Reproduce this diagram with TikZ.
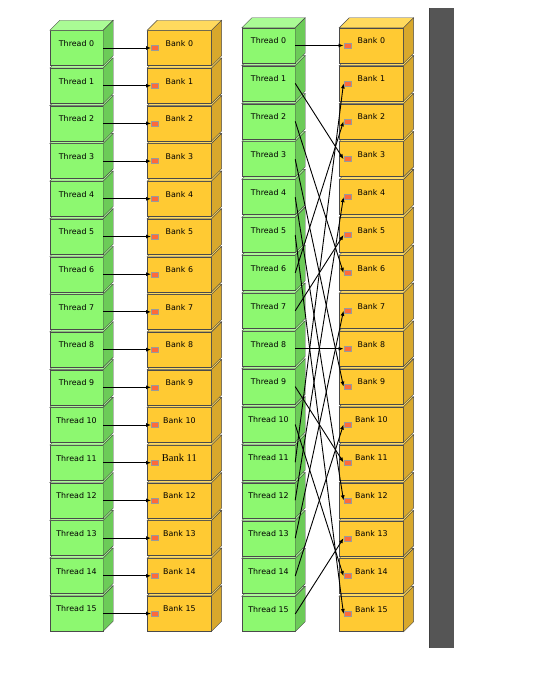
\documentclass[tikz,border=0pt]{standalone}
\usepackage{fontspec}
\setmainfont{DejaVu Sans}
\newfontfamily\bankserif{Liberation Serif}
\usepackage{xcolor}
\usetikzlibrary{arrows.meta, positioning}

\definecolor{thfront}{HTML}{8DF870}
\definecolor{thtop}{HTML}{AAFB95}
\definecolor{thside}{HTML}{6CCB58}
\definecolor{bkfront}{HTML}{FFCA33}
\definecolor{bktop}{HTML}{FFDA5E}
\definecolor{bkside}{HTML}{D8A82C}
\definecolor{edge}{HTML}{4A4A4A}
\definecolor{port}{HTML}{FF6A3A}
\definecolor{portedge}{HTML}{9A9A9A}
\definecolor{bar}{HTML}{555555}

\newcommand{\cubefaces}[3]{%
  \filldraw[draw=edge, line width=0.4pt, fill=#2] (#1.north west) -- ++(10,-10)
    -- ([shift={(10,-10)}]#1.north east) -- (#1.north east) -- cycle;
  \filldraw[draw=edge, line width=0.4pt, fill=#3] (#1.north east) -- ++(10,-10)
    -- ([shift={(10,-10)}]#1.south east) -- (#1.south east) -- cycle;
}

\begin{document}
\begin{tikzpicture}[
x=1pt, y=-1pt,
node distance=44pt,
face/.style={draw=edge, line width=0.4pt, inner sep=0pt, minimum height=35pt, text height=5.7pt, text depth=9pt, font=\fontsize{7.9}{9}\selectfont, text=black},
thread/.style={face, fill=thfront, minimum width=53pt},
bank/.style={face, fill=bkfront, minimum width=64pt},
port/.style={draw=portedge, fill=port, line width=0.4pt, inner sep=0pt, minimum width=7pt, minimum height=5pt},
arrow/.style={-{Latex[length=5pt,width=4pt]}, line width=0.9pt}
]
\useasboundingbox (0,0) rectangle (539,676);

% boxes, bottom row first so each box sits on the one below
\foreach \i in {15,14,...,0}{
  \node[thread] (lt\i) at (76.5,{48+37.7*\i}) {Thread \i};
  \cubefaces{lt\i}{thtop}{thside}
  \node[bank, right=of lt\i] (lb\i) {\ifnum\i=11 {\bankserif\fontsize{10.5}{12}\selectfont Bank 11}\else Bank \i\fi};
  \cubefaces{lb\i}{bktop}{bkside}
  \node[port] (lp\i) at ([xshift=7.5pt]lb\i.west) {};

  \node[thread] (rt\i) at (268.5,{45.5+37.9*\i}) {Thread \i};
  \cubefaces{rt\i}{thtop}{thside}
  \node[bank, right=of rt\i] (rb\i) {Bank \i};
  \cubefaces{rb\i}{bktop}{bkside}
  \node[port] (rp\i) at ([xshift=8pt]rb\i.west) {};
}

% thread i -> bank i, and thread i -> bank 3i mod 16
\foreach \i in {0,...,15}{
  \draw[arrow] (lt\i.east) -- (lp\i.west);
  \pgfmathtruncatemacro{\j}{mod(3*\i,16)}
  \draw[arrow] (rt\i.east) -- (rp\j.west);
}

\fill[bar] (429,8) rectangle (454,648);
\draw[black!75, line width=1pt] (429.5,8) -- (429.5,648);
\end{tikzpicture}
\end{document}
